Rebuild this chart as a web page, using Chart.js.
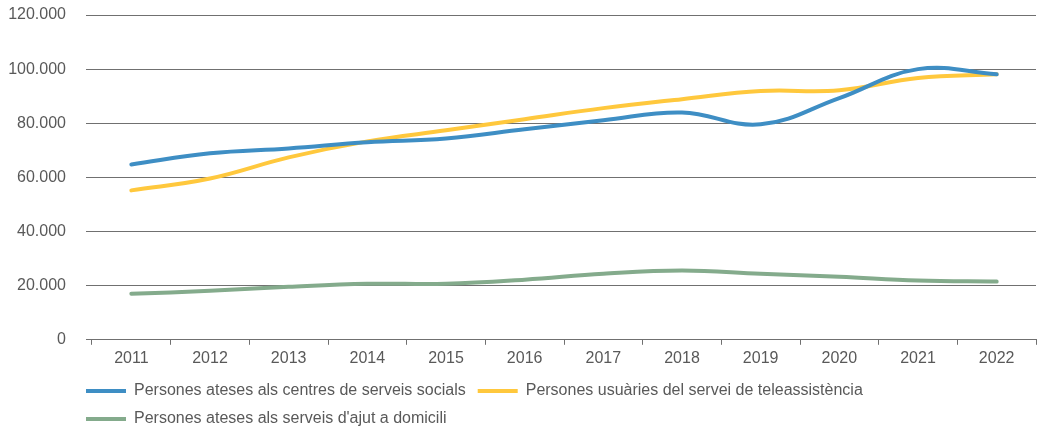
<!DOCTYPE html>
<html>
<head>
<meta charset="utf-8">
<script src="https://cdn.jsdelivr.net/npm/chart.js@4"></script>
<style>
  html, body { margin: 0; padding: 0; background: #fff; }
  #wrap { width: 1040px; height: 430px; }
</style>
</head>
<body>
<div id="wrap"><canvas id="chart-1"></canvas></div>
<script>
// categories
const years = ['2011', '2012', '2013', '2014', '2015', '2016', '2017', '2018', '2019', '2020', '2021', '2022'];

// series (persones)
const centresServeisSocials = [64800, 68900, 70700, 73000, 74400, 77800, 81100, 84000, 79600, 89300, 100000, 98100];
const teleassistencia = [55200, 59600, 67400, 73300, 77400, 81500, 85600, 88900, 91900, 92200, 96700, 98100];
const ajutDomicili = [17000, 18100, 19600, 20700, 20700, 22200, 24400, 25600, 24400, 23300, 21900, 21500];

// y ticks
const yTicks = [0, 20000, 40000, 60000, 80000, 100000, 120000];

const FONT = "'Liberation Sans', Arial, sans-serif";
const GRAY = '#595959';
const GRID = '#707070';

function fmt(v) {
  // 20000 -> 20.000
  return v.toString().replace(/\B(?=(\d{3})+(?!\d))/g, '.');
}

// move the legend under the plot (it starts at the gridline edge, not the canvas edge)
const legendShift = {
  id: 'legendShift',
  afterLayout(chart) {
    chart.legend.left += 66;
    chart.legend.top -= 1;
  }
};

const ctx1 = document.getElementById('chart-1');

new Chart(ctx1, {
  type: 'line',
  data: {
    labels: years,
    datasets: [{
      label: 'Persones ateses als centres de serveis socials',
      data: centresServeisSocials,
      borderColor: '#3e8ec4',
      backgroundColor: '#3e8ec4',
      borderWidth: 4
    }, {
      label: 'Persones usuàries del servei de teleassistència',
      data: teleassistencia,
      borderColor: '#ffc83d',
      backgroundColor: '#ffc83d',
      borderWidth: 4
    }, {
      label: "Persones ateses als serveis d'ajut a domicili",
      data: ajutDomicili,
      borderColor: '#84ab8c',
      backgroundColor: '#84ab8c',
      borderWidth: 4
    }]
  },
  plugins: [legendShift],
  options: {
    responsive: true,
    maintainAspectRatio: false,
    animation: false,
    layout: {
      padding: { left: 8, right: 4, top: 15, bottom: -8 }
    },
    elements: {
      line: { tension: 0.4, borderCapStyle: 'round' },
      point: { radius: 0, hoverRadius: 0 }
    },
    plugins: {
      legend: {
        position: 'bottom',
        align: 'start',
        labels: {
          usePointStyle: true,
          pointStyle: 'line',
          pointStyleWidth: 40,
          boxHeight: 4,
          color: GRAY,
          padding: 12,
          font: { family: FONT, size: 16 }
        }
      },
      tooltip: { enabled: false }
    },
    scales: {
      x: {
        offset: true,
        grid: {
          offset: true,
          drawOnChartArea: false,
          drawTicks: true,
          tickLength: 5,
          color: GRID
        },
        border: { color: GRID },
        ticks: {
          color: GRAY,
          padding: 4,
          font: { family: FONT, size: 16 }
        }
      },
      y: {
        min: 0,
        max: 120000,
        afterBuildTicks: function (axis) {
          axis.ticks = yTicks.map(function (v) { return { value: v }; });
        },
        afterFit: function (axis) {
          axis.width = 84;
          axis.paddingTop = 0;
          axis.paddingBottom = 0;
        },
        grid: {
          color: GRID,
          drawTicks: true,
          tickLength: 6
        },
        border: { display: false },
        ticks: {
          color: GRAY,
          padding: 20,
          font: { family: FONT, size: 16 },
          callback: function (v) { return fmt(v); }
        }
      }
    }
  }
});
</script>
</body>
</html>
